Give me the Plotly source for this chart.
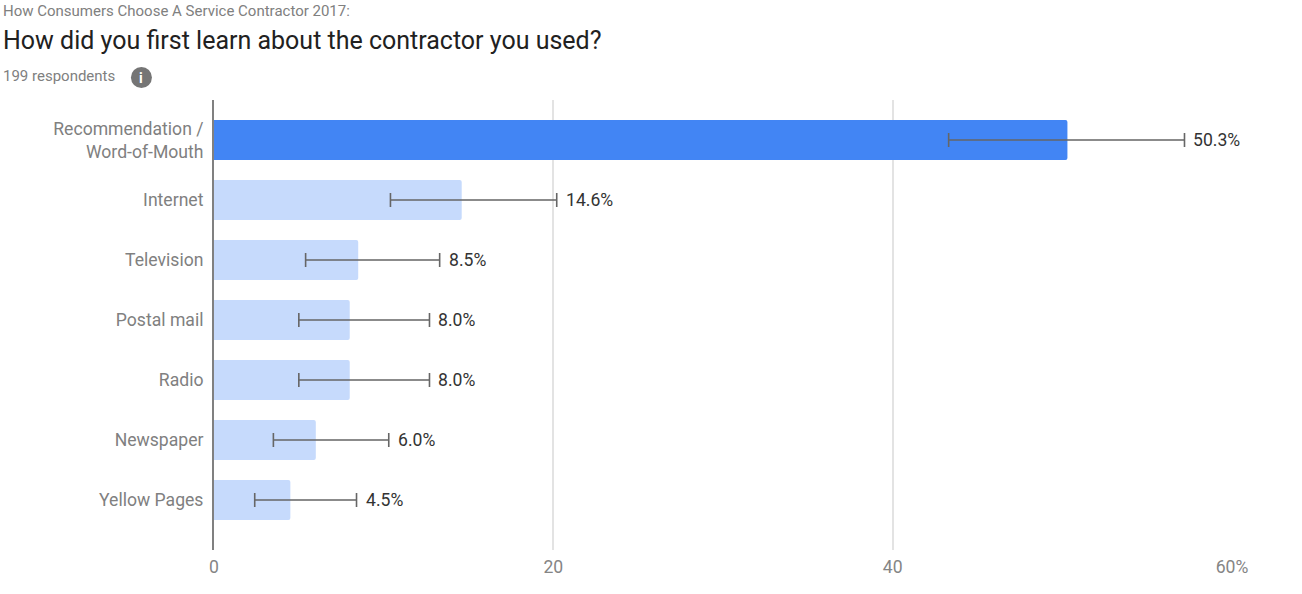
import plotly.graph_objects as go

categories = ["Recommendation /<br>Word-of-Mouth", "Internet", "Television", "Postal mail", "Radio", "Newspaper", "Yellow Pages"]
values = [50.3, 14.6, 8.5, 8.0, 8.0, 6.0, 4.5]
err_low = [43.3, 10.4, 5.4, 5.0, 5.0, 3.5, 2.4]
err_high = [57.2, 20.2, 13.3, 12.7, 12.7, 10.3, 8.4]
labels = ["50.3%", "14.6%", "8.5%", "8.0%", "8.0%", "6.0%", "4.5%"]
bar_colors = ["#4285f4"] + ["#c6dafc"] * 6
x_ticks = [0, 20, 40, 60]
x_tick_labels = ["0", "20", "40", "60%"]
FONT = "Roboto, sans-serif"

# plot area in page pixels (the page's body margin is removed below)
PX0, PX1, PY0, PY1 = 213.6, 1232, 100, 550


def px(x):
    return (x - PX0) / (PX1 - PX0)


def py(y):
    return 1 - (y - PY0) / (PY1 - PY0)


fig = go.Figure()
fig.add_bar(
    y=categories, x=values, orientation="h", width=0.667,
    marker=dict(color=bar_colors, line_width=0, cornerradius=2),
    error_x=dict(type="data", symmetric=False,
                 array=[h - v for h, v in zip(err_high, values)],
                 arrayminus=[v - l for l, v in zip(err_low, values)],
                 color="#666666", thickness=1.6, width=7),
    hoverinfo="skip", showlegend=False,
)
fig.update_layout(
    width=1302, height=594, autosize=False,
    margin=dict(l=PX0, r=1302 - PX1, t=PY0, b=594 - PY1),
    paper_bgcolor="white", plot_bgcolor="white",
    font=dict(family=FONT),
    xaxis=dict(range=[0, 60], tickvals=x_ticks, ticktext=x_tick_labels,
               showgrid=True, gridcolor="#e3e3e3", gridwidth=2, zeroline=False,
               ticks="", tickfont=dict(size=17.6, color="#858585"), ticklabelstandoff=4),
    yaxis=dict(range=[6.833, -0.667], showgrid=False, zeroline=False,
               showline=True, linecolor="#808080", linewidth=2,
               ticks="", tickfont=dict(size=17.6, color="#808080"), ticklabelstandoff=5),
)

for cat, hi, lab in zip(categories, err_high, labels):
    fig.add_annotation(text=lab, x=hi, y=cat, xref="x", yref="y", xshift=7,
                       showarrow=False, xanchor="left", yanchor="middle",
                       font=dict(size=17.6, color="#333333", family=FONT))


def note(text, x, y, size, color):
    fig.add_annotation(text=text, x=px(x), y=py(y), xref="paper", yref="paper",
                       showarrow=False, xanchor="left", yanchor="middle",
                       font=dict(size=size, color=color, family=FONT), borderpad=0)


note("How Consumers Choose A Service Contractor 2017:", 2, 11, 15, "#808080")
note("How did you first learn about the contractor you used?", 2, 41, 25, "#212121")
note("199 respondents", 2, 76, 15, "#808080")

fig.add_shape(type="circle", xref="paper", yref="paper",
              x0=px(130.5), x1=px(151.5), y0=py(88), y1=py(67),
              fillcolor="#757575", line_width=0)
fig.add_annotation(text="<b>i</b>", x=px(141), y=py(78), xref="paper", yref="paper",
                   showarrow=False, xanchor="center", yanchor="middle",
                   font=dict(size=14, color="white", family=FONT))

fig.write_html("out.html", post_script="document.body.style.margin='0';",
               config={"displayModeBar": False})
